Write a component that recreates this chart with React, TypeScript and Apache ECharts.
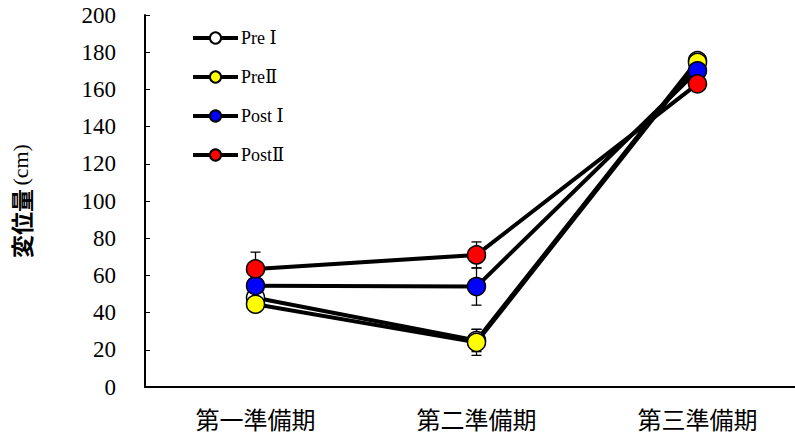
import React, { useEffect, useRef } from "react";
import * as echarts from "echarts";

const categories = ["第一準備期", "第二準備期", "第三準備期"];
const seriesNames = ["Pre Ⅰ", "PreⅡ", "Post Ⅰ", "PostⅡ"];
const preI = [48, 25, 175.5];
const preII = [44.5, 24, 174.5];
const postI = [54.5, 54, 170];
const postII = [63.5, 71, 163];
const preIErr = [4, 6, 4];
const preIIErr = [3, 7, 4];
const postIErr = [4, 10, 3];
const postIIErr = [9, 7, 4];
const fillColors = ["#ffffff", "#ffff00", "#0000ff", "#ff0000"];
const yTicks = { min: 0, max: 200, interval: 20 };

const SERIF = "'Liberation Serif', 'DejaVu Serif', serif";

export default function App() {
  const ref = useRef<HTMLDivElement>(null);
  useEffect(() => {
    if (!ref.current) return;
    const chart = echarts.init(ref.current, undefined, { renderer: "svg" });
    const values = [preI, preII, postI, postII];
    const errs = [preIErr, preIIErr, postIErr, postIIErr];
    const series: any[] = [];
    values.forEach((vals, si) => {
      const errData = vals.map((v, i) => [i, v - errs[si][i], v + errs[si][i]]);
      series.push({
        type: "custom",
        name: seriesNames[si] + "_err",
        z: 1,
        silent: true,
        renderItem: (params: any, api: any) => {
          const x = api.value(0);
          const lo = api.coord([x, api.value(1)]);
          const hi = api.coord([x, api.value(2)]);
          const w = 5;
          const st = { stroke: "#000", lineWidth: 1.3 };
          return {
            type: "group",
            children: [
              { type: "line", shape: { x1: lo[0], y1: lo[1], x2: hi[0], y2: hi[1] }, style: st },
              { type: "line", shape: { x1: lo[0] - w, y1: lo[1], x2: lo[0] + w, y2: lo[1] }, style: st },
              { type: "line", shape: { x1: hi[0] - w, y1: hi[1], x2: hi[0] + w, y2: hi[1] }, style: st },
            ],
          };
        },
        data: errData,
      });
    });
    values.forEach((vals, si) => {
      series.push({
        type: "line",
        name: seriesNames[si],
        data: vals,
        z: 2 + si,
        symbol: "circle",
        symbolSize: 18,
        lineStyle: { color: "#000", width: 4 },
        itemStyle: { color: fillColors[si], borderColor: "#000", borderWidth: 1.5 },
      });
    });
    chart.setOption({
      animation: false,
      backgroundColor: "#fff",
      grid: { left: 145, right: 0, top: 15, bottom: 47 },
      legend: {
        data: seriesNames,
        orient: "vertical",
        left: 186,
        top: 24,
        itemWidth: 45,
        itemHeight: 14,
        itemGap: 21,
        lineStyle: { width: 4 },
        textStyle: {
          fontFamily: SERIF,
          fontSize: 18,
          color: "#000",
          padding: [0, 0, 0, -2],
        },
      },
      xAxis: {
        type: "category",
        data: categories,
        axisLine: { lineStyle: { color: "#000", width: 2 } },
        axisTick: { inside: true, alignWithLabel: true, length: 4, lineStyle: { color: "#000" } },
        axisLabel: {
          color: "#000",
          fontFamily: "Noto Sans CJK JP",
          fontWeight: "normal",
          fontSize: 24,
          margin: 19,
        },
      },
      yAxis: {
        type: "value",
        min: yTicks.min,
        max: yTicks.max,
        interval: yTicks.interval,
        name: "{a|変位量} {b|(cm)}",
        nameLocation: "middle",
        nameGap: 113,
        nameRotate: 90,
        nameTextStyle: {
          rich: {
            a: { fontFamily: "Noto Sans CJK JP", fontWeight: "bold", fontSize: 23, color: "#000" },
            b: { fontFamily: SERIF, fontSize: 22, color: "#000" },
          },
        },
        axisLine: { show: true, lineStyle: { color: "#000", width: 2 } },
        axisTick: { show: true, inside: true, length: 5, lineStyle: { color: "#000" } },
        splitLine: { show: false },
        axisLabel: {
          color: "#000",
          fontFamily: SERIF,
          fontSize: 23,
          margin: 29,
        },
      },
      series,
    });
    return () => chart.dispose();
  }, []);
  return (
    <div
      style={{
        position: "absolute",
        left: 0,
        top: 0,
        width: 795,
        height: 434,
        overflow: "hidden",
      }}
    >
      <div ref={ref} style={{ width: 808, height: 434 }} />
    </div>
  );
}
